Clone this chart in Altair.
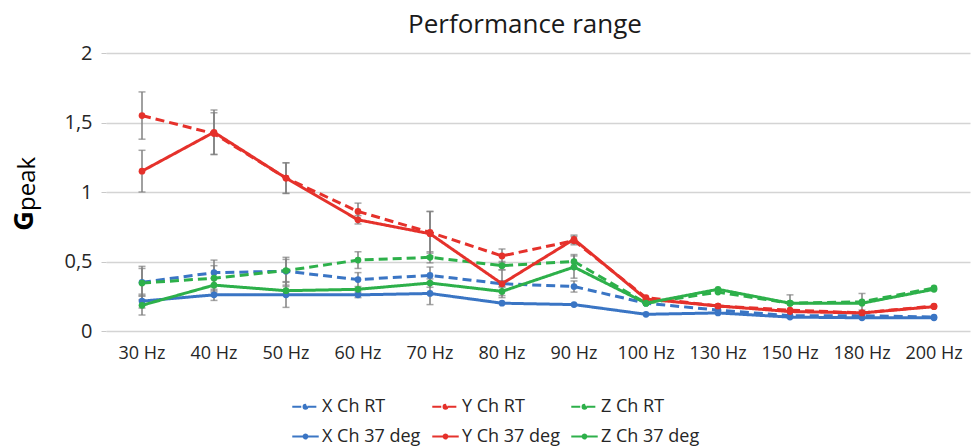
import altair as alt
import pandas as pd

# Excitation frequencies on the category axis
freqs = ["30 Hz", "40 Hz", "50 Hz", "60 Hz", "70 Hz", "80 Hz", "90 Hz",
         "100 Hz", "130 Hz", "150 Hz", "180 Hz", "200 Hz"]

series_names = ["X Ch RT", "Y Ch RT", "Z Ch RT",
                "X Ch 37 deg", "Y Ch 37 deg", "Z Ch 37 deg"]

# Peak acceleration per channel (G)
x_rt = [0.35, 0.42, 0.43, 0.37, 0.40, 0.34, 0.32, 0.20, 0.15, 0.11, 0.11, 0.10]
y_rt = [1.55, 1.42, 1.10, 0.86, 0.71, 0.54, 0.65, 0.24, 0.18, 0.15, 0.13, 0.18]
z_rt = [0.345, 0.38, 0.435, 0.51, 0.53, 0.47, 0.50, 0.20, 0.28, 0.20, 0.21, 0.31]
x_37 = [0.215, 0.26, 0.26, 0.26, 0.27, 0.20, 0.19, 0.12, 0.13, 0.10, 0.095, 0.095]
y_37 = [1.15, 1.43, 1.10, 0.80, 0.70, 0.34, 0.66, 0.23, 0.18, 0.14, 0.13, 0.175]
z_37 = [0.185, 0.33, 0.29, 0.30, 0.345, 0.285, 0.46, 0.20, 0.30, 0.20, 0.20, 0.30]

# Standard deviations (0 = no error bar drawn)
x_rt_err = [0.10, 0.09, 0.10, 0.05, 0.06, 0.02, 0.04, 0, 0, 0, 0, 0]
y_rt_err = [0.17, 0.15, 0.11, 0.06, 0.15, 0.05, 0.03, 0, 0, 0, 0, 0]
z_rt_err = [0.12, 0.09, 0.08, 0.06, 0.04, 0.03, 0.05, 0, 0, 0.06, 0.06, 0]
x_37_err = [0.05, 0.04, 0.09, 0.02, 0.08, 0, 0, 0, 0, 0, 0, 0]
y_37_err = [0.15, 0.16, 0.11, 0.03, 0.16, 0.10, 0.03, 0, 0, 0, 0, 0]
z_37_err = [0.07, 0.05, 0.03, 0, 0.03, 0.03, 0.08, 0, 0, 0, 0, 0]

colors = ["#3A75C4", "#E5312B", "#2DB04A", "#3A75C4", "#E5312B", "#2DB04A"]
dashes = [[9, 5], [9, 5], [9, 5], [1, 0], [1, 0], [1, 0]]

values = [x_rt, y_rt, z_rt, x_37, y_37, z_37]
errors = [x_rt_err, y_rt_err, z_rt_err, x_37_err, y_37_err, z_37_err]

rows = []
for name, vals, errs in zip(series_names, values, errors):
    for f, v, e in zip(freqs, vals, errs):
        rows.append({"freq": f, "series": name, "value": v,
                     "lo": v - e, "hi": v + e, "err": e})
df = pd.DataFrame(rows)

FONT = "Open Sans"
TXT = "#262626"

# Legend symbol: short line with a dot in the middle
LINE_DOT = "M-1,0H-0.14M0.14,0H1M0.14,0A0.14,0.14,0,1,1,-0.14,0A0.14,0.14,0,1,1,0.14,0"

legend_cfg = alt.Legend(title=None, orient="none", legendX=185, legendY=339,
                        direction="horizontal", columns=3, columnPadding=6,
                        rowPadding=6, labelFontSize=18, labelFont=FONT,
                        labelColor=TXT, symbolType=LINE_DOT, symbolSize=700,
                        symbolStrokeWidth=2.2, labelOffset=2)

x_enc = alt.X("freq:N", sort=freqs, title=None,
              scale=alt.Scale(paddingInner=0, paddingOuter=0),
              axis=alt.Axis(labelAngle=0, labelFontSize=18, labelColor=TXT,
                            labelFont=FONT, ticks=False, domain=False,
                            labelPadding=13, grid=False))
y_scale = alt.Scale(domain=[0, 2], nice=False)
color_enc = alt.Color("series:N", sort=series_names,
                      scale=alt.Scale(domain=series_names, range=colors),
                      legend=legend_cfg)
dash_enc = alt.StrokeDash("series:N", sort=series_names,
                          scale=alt.Scale(domain=series_names, range=dashes),
                          legend=legend_cfg)

base = alt.Chart(df)
with_err = base.transform_filter("datum.err > 0")

err_rule = with_err.mark_rule(color="#808080", strokeWidth=1.5).encode(
    x=x_enc, y=alt.Y("lo:Q", scale=y_scale), y2="hi:Q")

err_lo = with_err.mark_tick(color="#808080", thickness=1.5, size=7,
                            orient="horizontal").encode(
    x=x_enc, y=alt.Y("lo:Q", scale=y_scale))

err_hi = with_err.mark_tick(color="#808080", thickness=1.5, size=7,
                            orient="horizontal").encode(
    x=x_enc, y=alt.Y("hi:Q", scale=y_scale))

lines = base.mark_line(strokeWidth=3).encode(
    x=x_enc,
    y=alt.Y("value:Q", scale=y_scale, title=None,
            axis=alt.Axis(values=[0, 0.5, 1, 1.5, 2], labelFontSize=20,
                          labelFont=FONT, labelColor=TXT,
                          labelExpr="replace(format(datum.value, ''), '.', ',')",
                          domain=False, tickColor="#c8c8c8", tickSize=5,
                          labelPadding=9, gridColor="#d4d4d4", gridWidth=1.5)),
    color=color_enc,
    strokeDash=dash_enc,
    detail="series:N",
)

points = base.mark_point(filled=True, size=45, opacity=1).encode(
    x=x_enc,
    y=alt.Y("value:Q", scale=y_scale),
    color=color_enc,
)

# Axis title: bold "G" with a "peak" subscript
g_label = alt.Chart(pd.DataFrame({"t": ["G"]})).mark_text(
    angle=270, font=FONT, fontSize=27, fontWeight="bold", color="#000000",
    align="center", baseline="alphabetic"
).encode(text="t:N", x=alt.value(-73), y=alt.value(168))

peak_label = alt.Chart(pd.DataFrame({"t": ["peak"]})).mark_text(
    angle=270, font=FONT, fontSize=24, color="#000000",
    align="left", baseline="alphabetic"
).encode(text="t:N", x=alt.value(-71), y=alt.value(158))

chart = alt.layer(
    err_rule, err_lo, err_hi, lines, points, g_label, peak_label
).properties(
    width=864,
    height=278,
    title=alt.TitleParams("Performance range", fontSize=26, font=FONT,
                          fontWeight="normal", color="#1a1a1a", dx=-13,
                          offset=5),
    autosize=alt.AutoSizeParams(type="none"),
    padding={"left": 106, "top": 53, "right": 1, "bottom": 117},
).configure_view(stroke=None)

chart.save("out.html", embed_options={"renderer": "svg", "actions": False})
